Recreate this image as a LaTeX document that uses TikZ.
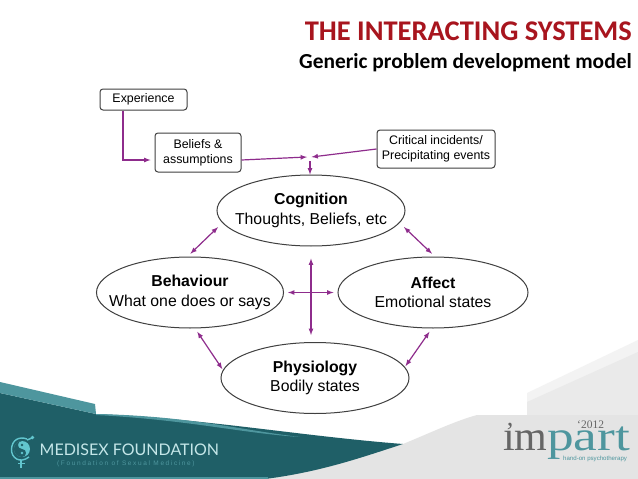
\documentclass[tikz,border=0pt]{standalone}
\usepackage{fontspec}
\setmainfont{Liberation Sans}
\newfontfamily\titlefont{Carlito}
\newfontfamily\logofont{Lato}
\newfontfamily\spacedfont[LetterSpace=25]{Liberation Sans}
\newfontfamily\impartfont{Liberation Serif}
\definecolor{arrowpurple}{HTML}{8E2C8C}
\definecolor{titlered}{HTML}{A8151E}
\definecolor{darkteal}{HTML}{1F5F67}
\definecolor{midteal}{HTML}{4E969E}
\definecolor{logolight}{HTML}{C4E6E8}
\definecolor{logocyan}{HTML}{62C6CE}
\definecolor{palegrey}{HTML}{E4E4E4}
\definecolor{paleband}{HTML}{F3F3F3}
\definecolor{paleright}{HTML}{EAEAEA}
\definecolor{outline}{HTML}{404040}
\tikzset{
  statebox/.style={draw=outline,line width=1pt,rounded corners=3pt,fill=white,align=center,inner sep=0pt,font=\fontsize{12.4}{15}\selectfont},
  stateoval/.style={draw=outline,line width=1pt,ellipse,fill=white,align=center,inner xsep=-30pt,inner ysep=-10pt,minimum width=187pt,minimum height=71pt,font=\fontsize{15.8}{19.2}\selectfont},
  link/.style={draw=arrowpurple,line width=1.2pt,-latex},
  twolink/.style={draw=arrowpurple,line width=1.2pt,latex-latex,shorten <=4pt,shorten >=6pt},
}
\usetikzlibrary{shapes.geometric}
\begin{document}
\begin{tikzpicture}[x=1pt,y=-1pt]
    \pgfmathsetmacro{\boxshift}{7.5}
    \useasboundingbox (0,0) rectangle (638,479);
    \fill[white] (0,0) rectangle (638,479);
    % footer shapes
    \fill[paleband] (527,393) -- (638,340) -- (638,479) -- (527,479) -- cycle;
    \fill[paleright] (527,402) -- (638,352) -- (638,479) -- (527,479) -- cycle;
    \fill[palegrey] (260,479) -- (403,444) .. controls (430,433) and (455,421) .. (477,415) -- (527,415) -- (527,479) -- cycle;
    \fill[palegrey] (527,415) rectangle (638,479);
    \fill[darkteal] (0,393) -- (96,414) .. controls (200,418) and (300,436) .. (403,444) .. controls (360,458) and (320,472) .. (265,479) -- (0,479) -- cycle;
    \fill[midteal] (0,382) -- (95,404) -- (96,414) -- (0,393) -- cycle;
    \fill[midteal] (96,414) .. controls (190,416) and (240,430) .. (300,437) .. controls (240,433) and (190,420) .. (96,415) -- cycle;
    \fill[midteal] (0,477) rectangle (268,479);
    % medisex mark
    \draw[logocyan,line width=1.4pt] (29,457) .. controls (20,464) and (11,458) .. (11.5,449) .. controls (12,440) and (19,436) .. (27,439);
    \fill[logocyan] (22,449) circle (8);
    \fill[darkteal] (22,441) .. controls (16.7,441) and (16.7,449) .. (22,449) .. controls (27.3,449) and (27.3,457) .. (22,457) .. controls (11.3,457) and (11.3,441) .. (22,441) -- cycle;
    \fill[logocyan] (22,453) circle (1.3);
    \fill[darkteal] (22,445) circle (1.3);
    \draw[logocyan,line width=1.4pt] (27,440) -- (32,438);
    \fill[logocyan] (32.5,437.5) circle (1.8);
    \draw[logocyan,line width=1.6pt] (21,459.5) -- (21,467.5) (18,463.5) -- (24.5,463.5);
    \node[anchor=west,inner sep=0,text=logolight] (medisex) at (39.5,449.5) {\logofont\fontsize{16}{18}\selectfont MEDISEX FOUNDATION};
    \node[anchor=west,inner sep=0,text=midteal] (medisexsub) at (57,463.5) {\spacedfont\fontsize{6.5}{7}\selectfont (Foundation of Sexual Medicine)};
    % impart mark
    \node[anchor=base west,inner sep=0,text=black!60] (imword) at (503,450) {\impartfont\fontsize{42}{42}\selectfont ım};
    \node[anchor=base west,inner sep=0,text=midteal] (partword) at (547,450) {\impartfont\fontsize{42}{42}\selectfont\scalebox{1.27}[1]{part}};
    \node[anchor=base,inner sep=0,text=black!60] (impartcomma) at (510,440) {\impartfont\fontsize{26}{26}\selectfont ’};
    \node[anchor=base west,inner sep=0,text=black!60] (impartyear) at (577,428.5) {\impartfont\fontsize{11.5}{12}\selectfont ‘2012};
    \node[anchor=base west,inner sep=0,text=midteal] (impartsub) at (563,460) {\fontsize{6.1}{6}\selectfont hand-on psychotherapy};
    % title
    \node[anchor=base east,inner sep=0,text=titlered] (title) at (632,41) {\titlefont\bfseries\fontsize{28.5}{30}\selectfont THE INTERACTING SYSTEMS};
    \node[anchor=base east,inner sep=0] (subtitle) at (632,68) {\titlefont\bfseries\fontsize{21.4}{24}\selectfont Generic problem development model};
    % the model
    \node[statebox,minimum width=87pt,minimum height=21pt] (experience) at (143.5,99.5) {Experience};
    \node[statebox,minimum width=86pt,minimum height=39pt] (beliefs) at (198,152.5) {Beliefs \&\\assumptions};
    \node[statebox,minimum width=118pt,minimum height=38pt] (incidents) at (436,149) {Critical incidents/\\Precipitating events};
    \node[stateoval,minimum width=188pt] (cognition) at (311,210.5) {\textbf{Cognition}\\Thoughts, Beliefs, etc};
    \node[stateoval] (behaviour) at (190,292.5) {\textbf{Behaviour}\\What one does or says};
    \node[stateoval,minimum width=190pt] (affect) at (433,292.5) {\textbf{Affect}\\Emotional states};
    \node[stateoval,minimum width=188pt] (physiology) at (315,378) {\textbf{Physiology}\\Bodily states};
    \coordinate (mergeleft) at (307,157);
    \coordinate (mergeright) at (311.5,157);
    \coordinate (mergedown) at (310,161);
    \draw[link,shorten >=4pt] ([xshift=-20.5pt]experience.south) |- ([yshift=-\boxshift pt]beliefs.west);
    \draw[link] ([yshift=-\boxshift pt]beliefs.east) -- (mergeleft);
    \draw[link] (incidents.west) -- (mergeright);
    \draw[link] (mergedown) -- (mergedown |- cognition.north);
    \draw[twolink] (behaviour.94) -- (cognition.188);
    \draw[twolink] (affect.87) -- (cognition.352);
    \draw[twolink,shorten >=1pt] (behaviour.278) -- (physiology.175);
    \draw[twolink,shorten >=1pt] (affect.268) -- (physiology.7);
    \draw[link,latex-latex,shorten <=12pt,shorten >=7pt] (cognition.south) -- (cognition.south |- physiology.north);
    \draw[link,latex-latex,shorten <=4pt,shorten >=4pt] (behaviour.east) -- (affect.west);
\end{tikzpicture}
\end{document}
